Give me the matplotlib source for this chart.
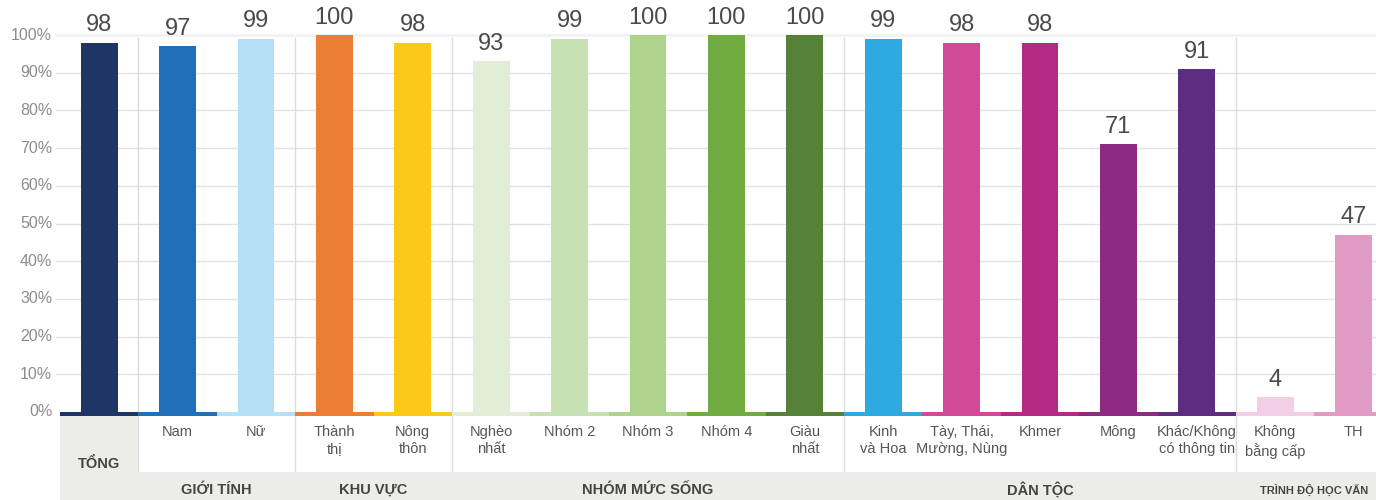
import matplotlib.pyplot as plt
from matplotlib.patches import Rectangle

plt.rcParams['font.family'] = ['Liberation Sans', 'DejaVu Sans']

labels = ["TỔNG", "Nam", "Nữ", "Thành\nthị", "Nông\nthôn",
          "Nghèo\nnhất", "Nhóm 2", "Nhóm 3", "Nhóm 4", "Giàu\nnhất",
          "Kinh\nvà Hoa", "Tày, Thái,\nMường, Nùng", "Khmer", "Mông",
          "Khác/Không\ncó thông tin", "Không\nbằng cấp", "TH"]
values = [98, 97, 99, 100, 98, 93, 99, 100, 100, 100, 99, 98, 98, 71, 91, 4, 47]
colors = ["#1f3566", "#1f70b8", "#b5e1f7", "#ea7e33", "#fdc918",
          "#e1edd6", "#c6e1b4", "#add38d", "#71ac43", "#568139",
          "#2eaae0", "#d04a98", "#b12a84", "#8c2b81", "#5e2d82",
          "#f3cfe5", "#e09ac4"]
group_names = ["GIỚI TÍNH", "KHU VỰC", "NHÓM MỨC SỐNG", "DÂN TỘC", "TRÌNH ĐỘ HỌC VẤN"]
group_start = [1, 3, 5, 10, 15]
group_end = [3, 5, 10, 15, 17]

# pixel -> data conversion: 0% at y=412 px, 3.77 px per percent
def py(p):
    return (412 - p) / 3.77

fig = plt.figure(figsize=(13.76, 5.0), dpi=100)
ax = fig.add_axes([60 / 1376, 0, 1 - 60 / 1376, 1])
n = len(values)
ax.set_xlim(-0.5, -0.5 + 1316 / 78.4)
ax.set_ylim(py(500), py(0))
ax.axis('off')

# grid
for v in range(10, 100, 10):
    ax.plot([-0.55, 17], [v, v], color="#e2e2e2", lw=1, zorder=0, clip_on=False)
ax.plot([-0.55, 17], [100, 100], color="#f2f2f2", lw=2, zorder=0, clip_on=False)
for v in range(0, 101, 10):
    ax.text(-0.6, v, f"{v}%", ha='right', va='center', fontsize=11.5, color="#8c8c8c")

# table backgrounds below the baseline
ax.add_patch(Rectangle((-0.5, py(500)), 1, py(416) - py(500), color="#ecece8", lw=0))
ax.add_patch(Rectangle((0.5, py(500)), 17, py(472) - py(500), color="#ecece8", lw=0))

# group dividers
for s in group_start:
    ax.plot([s - 0.5, s - 0.5], [py(500), py(38)], color="#dcdcdc", lw=1, zorder=0.5)

# bars and coloured baseline strip
x = list(range(n))
ax.bar(x, values, width=0.47, color=colors, zorder=2)
ax.bar(x, py(412) - py(416), bottom=py(416), width=1.0, color=colors, zorder=2)

for i, v in enumerate(values):
    ax.text(i, v + 1.7, str(v), ha='center', va='bottom', fontsize=17,
            color="#4a4a4a", family=['Liberation Sans Narrow', 'Liberation Sans'])

# category labels
ax.text(0, py(464), labels[0], ha='center', va='center', fontsize=10.5,
        fontweight='bold', color="#444444")
for i in range(1, n):
    ax.text(i, py(425), labels[i], ha='center', va='top', fontsize=10.5,
            color="#555555", linespacing=1.3)

# group labels
for name, s, e in zip(group_names, group_start, group_end):
    size = 8 if len(name) > 12 and e == 17 else 10.5
    ax.text((s + e - 1) / 2, py(490), name, ha='center', va='center',
            fontsize=size, fontweight='bold', color="#444444")

fig.savefig("out.png", dpi=100)
